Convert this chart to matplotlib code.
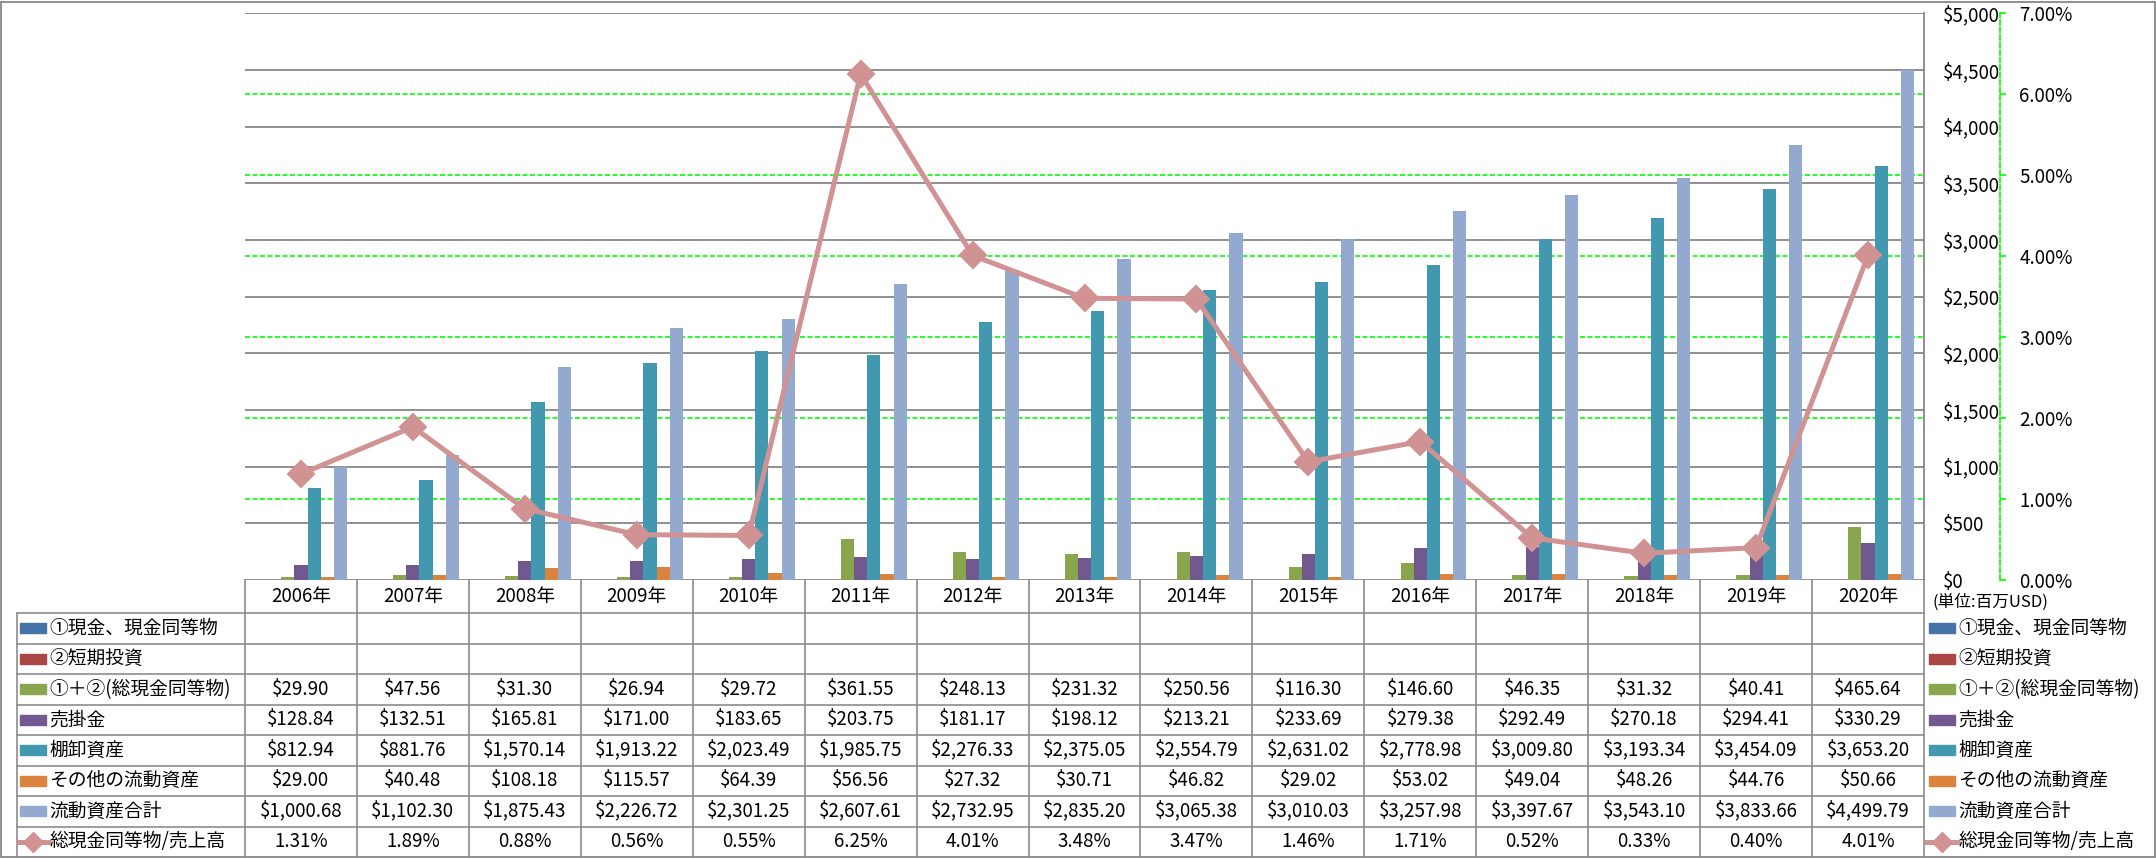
import matplotlib
matplotlib.use("Agg")
import matplotlib.pyplot as plt
import numpy as np
from matplotlib.lines import Line2D
from matplotlib.patches import Rectangle
from matplotlib.ticker import FuncFormatter, MultipleLocator, PercentFormatter
from matplotlib.transforms import blended_transform_factory

plt.rcParams["font.family"] = ["Noto Sans CJK JP", "DejaVu Sans"]

# ── データ ─────────────────────────────────────────────
years = ["2006年", "2007年", "2008年", "2009年", "2010年", "2011年", "2012年", "2013年",
         "2014年", "2015年", "2016年", "2017年", "2018年", "2019年", "2020年"]
cash = []            # ①現金、現金同等物 (空欄)
short_inv = []       # ②短期投資 (空欄)
cash_total = [29.90, 47.56, 31.30, 26.94, 29.72, 361.55, 248.13, 231.32,
              250.56, 116.30, 146.60, 46.35, 31.32, 40.41, 465.64]
receivables = [128.84, 132.51, 165.81, 171.00, 183.65, 203.75, 181.17, 198.12,
               213.21, 233.69, 279.38, 292.49, 270.18, 294.41, 330.29]
inventory = [812.94, 881.76, 1570.14, 1913.22, 2023.49, 1985.75, 2276.33, 2375.05,
             2554.79, 2631.02, 2778.98, 3009.80, 3193.34, 3454.09, 3653.20]
other_cur = [29.00, 40.48, 108.18, 115.57, 64.39, 56.56, 27.32, 30.71,
             46.82, 29.02, 53.02, 49.04, 48.26, 44.76, 50.66]
total_cur = [1000.68, 1102.30, 1875.43, 2226.72, 2301.25, 2607.61, 2732.95, 2835.20,
             3065.38, 3010.03, 3257.98, 3397.67, 3543.10, 3833.66, 4499.79]
ratio_pct = [1.31, 1.89, 0.88, 0.56, 0.55, 6.25, 4.01, 3.48,
             3.47, 1.46, 1.71, 0.52, 0.33, 0.40, 4.01]

bar_names = ["①現金、現金同等物", "②短期投資", "①＋②(総現金同等物)", "売掛金",
             "棚卸資産", "その他の流動資産", "流動資産合計"]
line_name = "総現金同等物/売上高"
unit_note = "(単位:百万USD)"

# 色
BAR_COLORS = ["#4572A7", "#AA4643", "#89A54E", "#71588F", "#4198AF", "#DB843D", "#94A9D0"]
LINE_C = "#D09292"
GRID_C = "#878787"
LIME = "#00FF00"
TBL_C = "#8C8C8C"

# ── レイアウト (ピクセル) ───────────────────────────────
W, H = 2156, 858
fig = plt.figure(figsize=(W / 100, H / 100), dpi=100)


def fx(p):
    return p / W


def fy(p):
    return 1 - p / H


PL, PR, PT, PB = 245, 1924, 13.3, 580
FS = 13.5
ax = fig.add_axes([fx(PL), fy(PB), (PR - PL) / W, (PB - PT) / H])

series = [cash, short_inv, cash_total, receivables, inventory, other_cur, total_cur]
n = len(series)
bw = 1 / (n + 1.5)
x = np.arange(len(years))
for i, (vals, c) in enumerate(zip(series, BAR_COLORS)):
    if not vals:
        continue
    ax.bar(x + (i - (n - 1) / 2) * bw, vals, width=bw, color=c, zorder=2)

ax.set_xlim(-0.5, len(years) - 0.5)
ax.set_ylim(0, 5000)
ax.set_yticks(np.arange(0, 5001, 500))
ax.yaxis.set_major_formatter(FuncFormatter(lambda v, _: f"${v:,.0f}"))
ax.set_xticks([])
ax.set_axisbelow(True)
ax.grid(axis="y", color=GRID_C, lw=1.3, zorder=0.5)
for s in ["top", "left", "bottom"]:
    ax.spines[s].set_visible(False)
ax.spines["right"].set_color(GRID_C)
ax.spines["right"].set_linewidth(1.3)
ax.patch.set_visible(False)

# 第2軸 (%)
ax2 = ax.twinx()
ax2.set_ylim(0, 0.07)
ax2.yaxis.set_major_locator(MultipleLocator(0.01))
ax2.yaxis.set_major_formatter(PercentFormatter(1.0, decimals=2))
for s in ["top", "left", "bottom"]:
    ax2.spines[s].set_visible(False)
ax2.spines["right"].set_position(("axes", (2000 - PL) / (PR - PL)))
ax2.spines["right"].set_color(LIME)
ax2.spines["right"].set_linestyle((0, (3, 1.5)))
ax2.spines["right"].set_linewidth(1.2)
ax2.tick_params(axis="y", color=LIME, length=4, width=1.2, pad=10, labelsize=FS)

# twinx が左に戻すので、主軸の目盛を右へ
ax.yaxis.tick_right()
ax.tick_params(axis="y", length=0, pad=13.7, labelsize=FS)

# 第2軸の目盛線は棒の下に描く
gtr = blended_transform_factory(ax.transAxes, ax2.transData)
for t in ax2.get_yticks():
    if 0 < t < 0.0699:
        ax.plot([0, 1], [t, t], transform=gtr, color=LIME, lw=1.2,
                ls=(0, (3, 1.5)), zorder=0.4)

ax2.plot(x, np.array(ratio_pct) / 100, color=LINE_C, lw=3.6, marker="D", ms=13,
         mec=LINE_C, mew=1.5, zorder=3, solid_joinstyle="round")

# ── データテーブル ─────────────────────────────────────
tx = blended_transform_factory(ax.transData, fig.transFigure)
HDR_T, HDR_B = 580, 613
row_edges = np.linspace(613, 857, 9)
TL = 16.5


def hline(x0, x1, y):
    fig.add_artist(Line2D([fx(x0), fx(x1)], [fy(y), fy(y)], color=TBL_C, lw=1.2,
                          transform=fig.transFigure))


def vline(xpx, y0, y1):
    fig.add_artist(Line2D([fx(xpx), fx(xpx)], [fy(y0), fy(y1)], color=TBL_C, lw=1.2,
                          transform=fig.transFigure))


for y in row_edges[:-1]:
    hline(TL, PR, y)
vline(TL, HDR_B, 857)
for b in np.arange(-0.5, len(years)):
    fig.add_artist(Line2D([b, b], [fy(HDR_T), fy(857)], color=TBL_C, lw=1.2, transform=tx))

for i, yr in enumerate(years):
    fig.text(i, fy((HDR_T + HDR_B) / 2), yr, transform=tx, ha="center", va="center", fontsize=FS)

table_rows = [cash, short_inv, cash_total, receivables, inventory, other_cur, total_cur]
centers = (row_edges[:-1] + row_edges[1:]) / 2
for r, vals in enumerate(table_rows):
    for i, v in enumerate(vals):
        fig.text(i, fy(centers[r]), f"${v:,.2f}", transform=tx, ha="center", va="center",
                 fontsize=FS)
for i, v in enumerate(ratio_pct):
    fig.text(i, fy(centers[7]), f"{v:.2f}%", transform=tx, ha="center", va="center", fontsize=FS)


def legend_entry(xk, r, label, color=None, is_line=False):
    yc = centers[r]
    if is_line:
        fig.add_artist(Line2D([fx(xk - 2), fx(xk + 28)], [fy(yc), fy(yc)], color=LINE_C, lw=3.6,
                              transform=fig.transFigure))
        fig.add_artist(Line2D([fx(xk + 13)], [fy(yc)], color=LINE_C, marker="D", ms=10,
                              mec=LINE_C, transform=fig.transFigure))
    else:
        fig.add_artist(Rectangle((fx(xk), fy(yc + 5)), 26 / W, 10 / H, color=color,
                                 transform=fig.transFigure))
    fig.text(fx(xk + 29), fy(yc), label, ha="left", va="center", fontsize=FS)


for r, (nm, c) in enumerate(zip(bar_names, BAR_COLORS)):
    legend_entry(20, r, nm, c)
    legend_entry(1929, r, nm, c)
legend_entry(20, 7, line_name, is_line=True)
legend_entry(1929, 7, line_name, is_line=True)

fig.text(fx(1933), fy(602), unit_note, ha="left", va="center", fontsize=12)

# 外枠
fig.add_artist(Rectangle((fx(0.5), fy(857)), (2155 - 0.5) / W, (857 - 1.5) / H, fill=False,
                         ec=GRID_C, lw=1.3, transform=fig.transFigure))

fig.savefig("out.png", dpi=100)
